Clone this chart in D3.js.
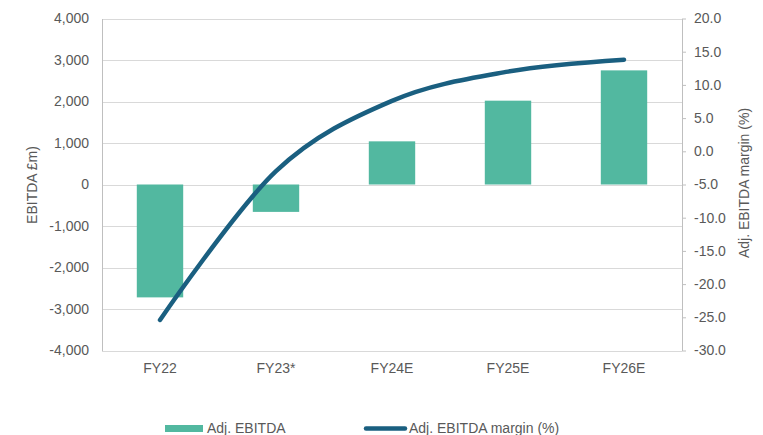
<!DOCTYPE html>
<html>
<head>
<meta charset="utf-8">
<script src="https://cdn.jsdelivr.net/npm/d3@7/dist/d3.min.js"></script>
<style>
  body { margin: 0; background: #fff; }
  text { font-family: "Liberation Sans", Arial, sans-serif; fill: #595959; }
</style>
</head>
<body>
<script>
// chart data
var years = ["FY22", "FY23*", "FY24E", "FY25E", "FY26E"];
var ebitda = [-2720, -660, 1040, 2020, 2750];
var margin = [-25.4, -3.0, 7.6, 12.0, 13.8];
var leftTicks = [-4000, -3000, -2000, -1000, 0, 1000, 2000, 3000, 4000];
var rightTicks = [-30, -25, -20, -15, -10, -5, 0, 5, 10, 15, 20];

var W = 763, H = 435;
var plot = {left: 102, right: 682, top: 18.5, bottom: 350.5};

// excel style hyphen minus instead of d3's unicode minus
var fmtL = function(d) { return d3.format(",")(d).replace("\u2212", "-"); };
var fmtR = function(d) { return d3.format(".1f")(d).replace("\u2212", "-"); };

var svg = d3.select("body").append("svg")
    .attr("width", W)
    .attr("height", H);

var x = d3.scaleBand()
    .domain(years)
    .range([plot.left, plot.right]);

var yL = d3.scaleLinear()
    .domain([-4000, 4000])
    .range([plot.bottom, plot.top]);

var yR = d3.scaleLinear()
    .domain([-30, 20])
    .range([plot.bottom, plot.top]);

// gridlines
svg.append("g")
    .selectAll("line")
    .data(leftTicks)
    .enter().append("line")
    .attr("x1", plot.left)
    .attr("x2", plot.right)
    .attr("y1", function(d) { return Math.round(yL(d)) + 0.5; })
    .attr("y2", function(d) { return Math.round(yL(d)) + 0.5; })
    .attr("stroke", "#d9d9d9")
    .attr("stroke-width", 1);

// left axis
var axL = svg.append("g")
    .attr("transform", "translate(" + plot.left + ",0)")
    .call(d3.axisLeft(yL).tickValues(leftTicks).tickSize(0).tickPadding(13)
        .tickFormat(fmtL));
axL.select(".domain").attr("stroke", "#bfbfbf");
axL.selectAll("text").style("font-size", "14px").attr("fill", "#595959");

// right axis
var axR = svg.append("g")
    .attr("transform", "translate(" + plot.right + ",0)")
    .call(d3.axisRight(yR).tickValues(rightTicks).tickSizeInner(4).tickSizeOuter(0).tickPadding(8)
        .tickFormat(fmtR));
axR.select(".domain").attr("stroke", "#bfbfbf");
axR.selectAll(".tick line").attr("stroke", "#bfbfbf");
axR.selectAll("text").style("font-size", "14px").attr("fill", "#595959");

// category labels
svg.append("g")
    .selectAll("text")
    .data(years)
    .enter().append("text")
    .attr("x", function(d) { return x(d) + x.bandwidth() / 2; })
    .attr("y", 373)
    .attr("text-anchor", "middle")
    .style("font-size", "14px")
    .text(function(d) { return d; });

// bars
var barW = x.bandwidth() * 0.4;
svg.append("g")
    .selectAll("rect")
    .data(ebitda)
    .enter().append("rect")
    .attr("x", function(d, i) { return x(years[i]) + (x.bandwidth() - barW) / 2; })
    .attr("y", function(d) { return yL(Math.max(0, d)); })
    .attr("width", barW)
    .attr("height", function(d) { return Math.abs(yL(d) - yL(0)); })
    .attr("fill", "#52b8a0");

// margin line (smoothed like excel)
var line = d3.line()
    .x(function(d, i) { return x(years[i]) + x.bandwidth() / 2; })
    .y(function(d) { return yR(d); })
    .curve(d3.curveCardinal.tension(0));

svg.append("path")
    .datum(margin)
    .attr("d", line)
    .attr("fill", "none")
    .attr("stroke", "#1a5f80")
    .attr("stroke-width", 4.5)
    .attr("stroke-linecap", "round");

// axis titles
svg.append("text")
    .attr("transform", "translate(37,185) rotate(-90)")
    .attr("text-anchor", "middle")
    .style("font-size", "14px")
    .text("EBITDA £m)");

svg.append("text")
    .attr("transform", "translate(749,183) rotate(-90)")
    .attr("text-anchor", "middle")
    .style("font-size", "14px")
    .text("Adj. EBITDA margin (%)");

// legend
var lg = svg.append("g");
lg.append("rect")
    .attr("x", 165).attr("y", 425)
    .attr("width", 38).attr("height", 7)
    .attr("fill", "#52b8a0");
lg.append("text")
    .attr("x", 207).attr("y", 433)
    .style("font-size", "14px")
    .text("Adj. EBITDA");
lg.append("line")
    .attr("x1", 366).attr("x2", 405)
    .attr("y1", 428.5).attr("y2", 428.5)
    .attr("stroke", "#1a5f80")
    .attr("stroke-width", 4.5)
    .attr("stroke-linecap", "round");
lg.append("text")
    .attr("x", 409).attr("y", 433)
    .style("font-size", "14px")
    .text("Adj. EBITDA margin (%)");
</script>
</body>
</html>
